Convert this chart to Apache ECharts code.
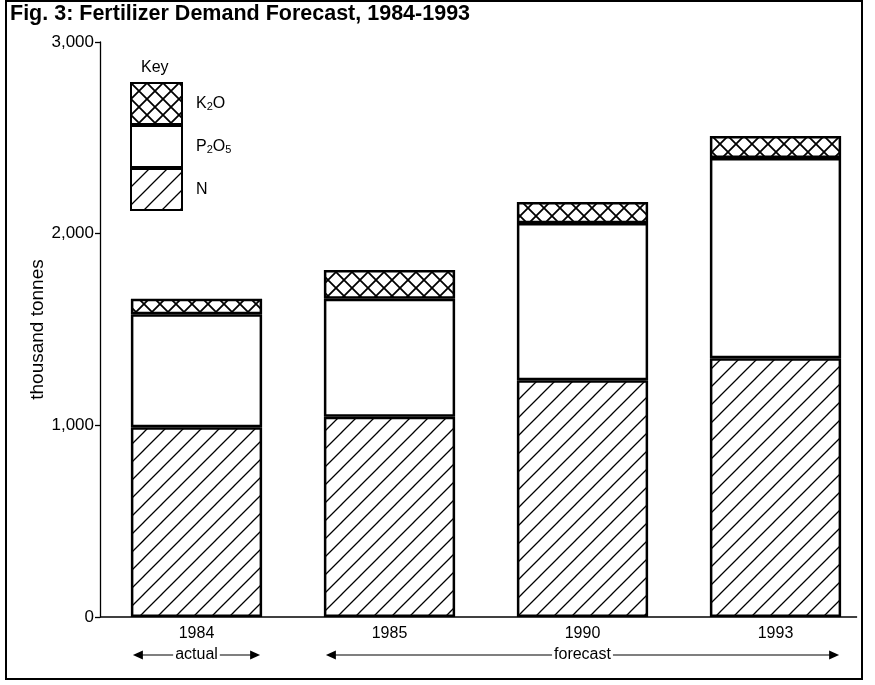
<!DOCTYPE html>
<html lang="en">
<head>
<meta charset="UTF-8">
<title>Fertilizer Demand Forecast</title>
<script src="https://cdn.jsdelivr.net/npm/echarts@6/dist/echarts.min.js"></script>
<style>html,body{margin:0;padding:0;background:#fff;}</style>
</head>
<body>
<div id="main" style="width:875px;height:685px;"></div>
<script type="text/javascript">
// data (thousand tonnes)
var years = ['1984', '1985', '1990', '1993'];
var nitrogen = [990, 1045, 1235, 1350];
var phosphate = [590, 615, 820, 1045];
var potash = [80, 150, 110, 115];
var yTicks = [0, 1000, 2000, 3000];
// period label, first year, last year
var periods = [['actual', '1984', '1984'], ['forecast', '1985', '1993']];

var FONT = '"Liberation Sans", Arial, Helvetica, sans-serif';
var GAP = 0.32;

// hatch tiles drawn on a small canvas
function makeTile(size, cross, width) {
    var c = document.createElement('canvas');
    c.width = c.height = size;
    var ctx = c.getContext('2d');
    ctx.fillStyle = '#fff';
    ctx.fillRect(0, 0, size, size);
    ctx.strokeStyle = '#000';
    ctx.lineWidth = width;
    ctx.beginPath();
    ctx.moveTo(0, size); ctx.lineTo(size, 0);
    ctx.moveTo(-size / 2, size / 2); ctx.lineTo(size / 2, -size / 2);
    ctx.moveTo(size / 2, size * 1.5); ctx.lineTo(size * 1.5, size / 2);
    if (cross) {
        ctx.moveTo(0, 0); ctx.lineTo(size, size);
        ctx.moveTo(size / 2, -size / 2); ctx.lineTo(size * 1.5, size / 2);
        ctx.moveTo(-size / 2, size / 2); ctx.lineTo(size / 2, size * 1.5);
    }
    ctx.stroke();
    return c;
}

var lineFill = {image: makeTile(18, false, 1.3), repeat: 'repeat'};
var crossFill = {image: makeTile(16, true, 1.8), repeat: 'repeat'};

var legendText = {
    'N': '{t|N}',
    'P2O5': '{t|P}{s|2}{t|O}{s|5}',
    'K2O': '{t|K}{s|2}{t|O}'
};

var myChart = echarts.init(document.getElementById('main'));

function barSeries(name, data, fill) {
    return {
        name: name,
        type: 'bar',
        stack: 'total',
        data: data,
        barCategoryGap: (GAP * 100) + '%',
        itemStyle: {
            color: fill,
            borderColor: '#000',
            borderWidth: 2.5
        },
        emphasis: {disabled: true}
    };
}

var option = {
    animation: false,
    backgroundColor: '#fff',
    textStyle: {fontFamily: FONT, color: '#000'},
    title: [{
        text: 'Fig. 3: Fertilizer Demand Forecast, 1984-1993',
        left: 10, top: 3, padding: 0,
        textStyle: {fontFamily: FONT, fontSize: 21.5, fontWeight: 'bold', color: '#000'}
    }, {
        text: 'Key',
        left: 141, top: 60, padding: 0,
        textStyle: {fontFamily: FONT, fontSize: 16, fontWeight: 'normal', color: '#000'}
    }],
    legend: {
        data: ['K2O', 'P2O5', 'N'],
        orient: 'vertical',
        left: 130, top: 82,
        padding: 0,
        itemWidth: 51, itemHeight: 41, itemGap: 0,
        selectedMode: false,
        icon: 'rect',
        formatter: function (name) { return legendText[name]; },
        textStyle: {
            padding: [0, 0, 0, 9],
            rich: {
                t: {fontFamily: FONT, fontSize: 16, color: '#000', lineHeight: 18},
                s: {fontFamily: FONT, fontSize: 11, color: '#000', verticalAlign: 'bottom', lineHeight: 18}
            }
        }
    },
    grid: {left: 100, right: 3, top: 42, bottom: 68},
    xAxis: {
        type: 'category',
        data: years,
        axisLine: {show: false},
        axisTick: {show: false},
        axisLabel: {fontFamily: FONT, fontSize: 16, color: '#000', margin: 9}
    },
    yAxis: {
        type: 'value',
        min: yTicks[0], max: yTicks[yTicks.length - 1], interval: 1000,
        name: 'thousand tonnes',
        nameLocation: 'middle',
        nameMoveOverlap: false,
        nameGap: 53,
        nameTextStyle: {fontFamily: FONT, fontSize: 19, color: '#000'},
        axisLine: {show: true, lineStyle: {color: '#000', width: 1.3}},
        axisTick: {show: true, length: 5, lineStyle: {color: '#000', width: 1.3}},
        splitLine: {show: false},
        axisLabel: {
            fontFamily: FONT, fontSize: 17, color: '#000', margin: 6,
            formatter: function (v) { return v.toLocaleString('en-US'); }
        }
    },
    series: [
        barSeries('N', nitrogen, lineFill),
        barSeries('P2O5', phosphate, '#fff'),
        barSeries('K2O', potash, crossFill)
    ]
};

myChart.setOption(option);

// frame, baseline and the actual / forecast arrows, placed from the axis scale
var cx = years.map(function (y) { return myChart.convertToPixel({xAxisIndex: 0}, y); });
var half = (cx[1] - cx[0]) * (1 - GAP) / 2;
var y0 = myChart.convertToPixel({yAxisIndex: 0}, 0);
var arrowY = 655;
var graphics = [];

graphics.push({
    type: 'rect', z: 100, silent: true,
    shape: {x: 6, y: 1, width: 856, height: 678},
    style: {fill: null, stroke: '#000', lineWidth: 2}
});
graphics.push({
    type: 'line', z: 5, silent: true,
    shape: {x1: 100, y1: y0, x2: cx[3] + half + 16, y2: y0},
    style: {stroke: '#000', lineWidth: 1.3}
});

periods.forEach(function (p) {
    var x1 = cx[years.indexOf(p[1])] - half + 2;
    var x2 = cx[years.indexOf(p[2])] + half - 2;
    graphics.push({
        type: 'line', silent: true,
        shape: {x1: x1 + 6, y1: arrowY, x2: x2 - 6, y2: arrowY},
        style: {stroke: '#000', lineWidth: 1.2}
    });
    graphics.push({
        type: 'polygon', silent: true,
        shape: {points: [[x1, arrowY], [x1 + 10, arrowY - 4.5], [x1 + 10, arrowY + 4.5]]},
        style: {fill: '#000'}
    });
    graphics.push({
        type: 'polygon', silent: true,
        shape: {points: [[x2, arrowY], [x2 - 10, arrowY - 4.5], [x2 - 10, arrowY + 4.5]]},
        style: {fill: '#000'}
    });
    graphics.push({
        type: 'text', silent: true, z: 10,
        x: (x1 + x2) / 2, y: arrowY,
        style: {
            text: p[0], fontFamily: FONT, fontSize: 16, fill: '#000',
            align: 'center', verticalAlign: 'middle',
            backgroundColor: '#fff', padding: [0, 2]
        }
    });
});

myChart.setOption({graphic: graphics});
</script>
</body>
</html>
